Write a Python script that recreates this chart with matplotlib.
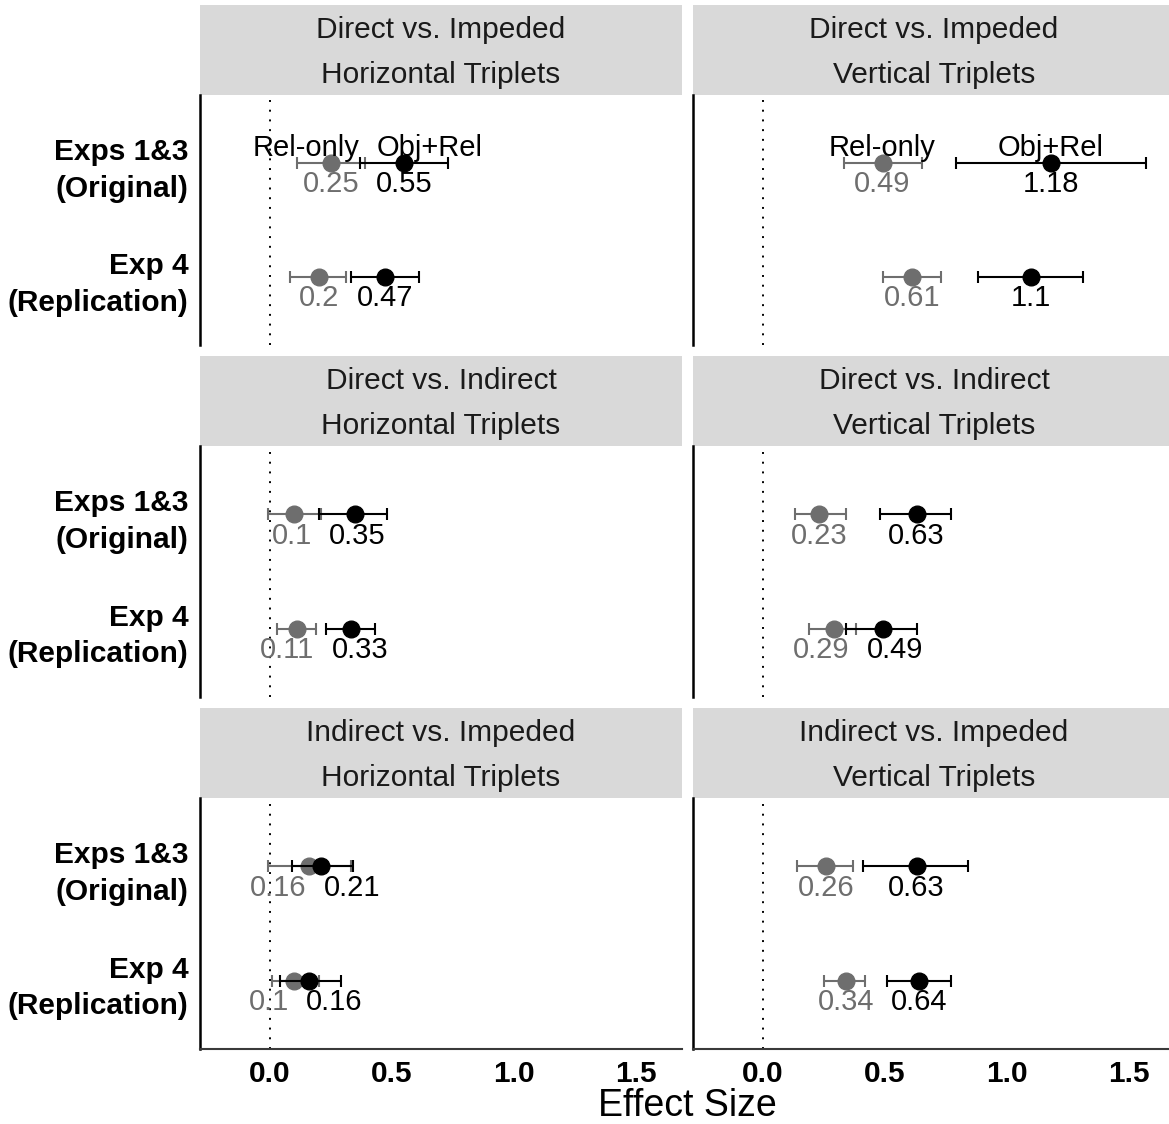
import matplotlib
matplotlib.use("Agg")
import numpy as np
import matplotlib.pyplot as plt
from matplotlib.transforms import ScaledTranslation

plt.rcParams['font.family'] = ['Liberation Sans', 'DejaVu Sans']

# facet labels
comparisons = ["Direct vs. Impeded", "Direct vs. Indirect", "Indirect vs. Impeded"]
orientations = ["Horizontal Triplets", "Vertical Triplets"]
experiments = ["Exps 1&3\n(Original)", "Exp 4\n(Replication)"]
series_names = ["Rel-only", "Obj+Rel"]

# effect sizes [comparison][orientation][experiment]
rel_est = [[[0.25, 0.20], [0.49, 0.61]],
           [[0.10, 0.11], [0.23, 0.29]],
           [[0.16, 0.10], [0.26, 0.34]]]
rel_lo = [[[0.11, 0.08], [0.33, 0.49]],
          [[-0.01, 0.03], [0.13, 0.19]],
          [[-0.01, 0.01], [0.14, 0.25]]]
rel_hi = [[[0.39, 0.31], [0.65, 0.73]],
          [[0.21, 0.19], [0.34, 0.38]],
          [[0.33, 0.20], [0.37, 0.42]]]
obj_est = [[[0.55, 0.47], [1.18, 1.10]],
           [[0.35, 0.33], [0.63, 0.49]],
           [[0.21, 0.16], [0.63, 0.64]]]
obj_lo = [[[0.37, 0.33], [0.79, 0.88]],
          [[0.20, 0.23], [0.48, 0.34]],
          [[0.09, 0.04], [0.41, 0.51]]]
obj_hi = [[[0.73, 0.61], [1.57, 1.31]],
          [[0.48, 0.43], [0.77, 0.63]],
          [[0.34, 0.29], [0.84, 0.77]]]

x_ticks = [0.0, 0.5, 1.0, 1.5]
x_ticklabels = ["0.0", "0.5", "1.0", "1.5"]

W, H = 1169, 1124
DPI = 100
fig = plt.figure(figsize=(W / DPI, H / DPI), dpi=DPI)


def px_rect(x0, y0, x1, y1):
    return [x0 / W, 1 - y1 / H, (x1 - x0) / W, (y1 - y0) / H]


col_x = [(200, 682), (693, 1175)]
row_y = [(95, 345), (446, 697), (798, 1049)]
strip_h = 90
GRAY = '#6e6e6e'
FS = 21
LABEL_GAP_PX = 17


def fmt(v):
    return f"{round(v, 2):g}"


label_pairs = []  # (ax, text_a, text_b, x_a, x_b, y, dy)
lift = ScaledTranslation(0, 3 / DPI, fig.dpi_scale_trans)

for i, comp in enumerate(comparisons):
    for j, orient in enumerate(orientations):
        x0, x1 = col_x[j]
        y0, y1 = row_y[i]

        # strip header
        sax = fig.add_axes(px_rect(x0, y0 - strip_h, x1, y0))
        sax.set_facecolor('#d9d9d9')
        sax.set_xticks([])
        sax.set_yticks([])
        for s in sax.spines.values():
            s.set_visible(False)
        sax.text(0.5, 0.72, comp, ha='center', va='center', fontsize=21.5,
                 color='#1a1a1a', transform=sax.transAxes)
        sax.text(0.5, 0.22, orient, ha='center', va='center', fontsize=21.5,
                 color='#1a1a1a', transform=sax.transAxes)

        ax = fig.add_axes(px_rect(x0, y0, x1, y1))
        ax.set_xlim(-0.287, 1.689)
        ax.set_ylim(2.6, 0.4)
        ax.axvline(0, color='black', ls=(0, (1, 4)), lw=1.4, zorder=1)

        y = np.array([1, 2])
        re = np.array(rel_est[i][j])
        oe = np.array(obj_est[i][j])
        ax.errorbar(re, y, xerr=[re - np.array(rel_lo[i][j]), np.array(rel_hi[i][j]) - re],
                    fmt='o', color=GRAY, ms=12, capsize=4, elinewidth=1.5,
                    capthick=1.5, zorder=2)
        ax.errorbar(oe, y, xerr=[oe - np.array(obj_lo[i][j]), np.array(obj_hi[i][j]) - oe],
                    fmt='o', color='black', ms=12, capsize=4, elinewidth=1.5,
                    capthick=1.5, zorder=3)

        for k in range(2):
            tr = ax.annotate(fmt(re[k]), (re[k], y[k]), xytext=(0, -21),
                             textcoords='offset points', ha='center', va='baseline',
                             color=GRAY, fontsize=FS)
            to = ax.annotate(fmt(oe[k]), (oe[k], y[k]), xytext=(0, -21),
                             textcoords='offset points', ha='center', va='baseline',
                             color='black', fontsize=FS)
            label_pairs.append((ax, tr, to, re[k], oe[k], y[k], -21))

        if i == 0:
            ta = ax.annotate(series_names[0], (re[0], y[0]), xytext=(0, 5.5),
                             textcoords='offset points', ha='center', va='baseline',
                             color='black', fontsize=FS)
            tb = ax.annotate(series_names[1], (oe[0], y[0]), xytext=(0, 5.5),
                             textcoords='offset points', ha='center', va='baseline',
                             color='black', fontsize=FS)
            label_pairs.append((ax, ta, tb, re[0], oe[0], y[0], 5.5))

        # axes styling
        for side in ('top', 'right'):
            ax.spines[side].set_visible(False)
        ax.spines['left'].set_color('black')
        ax.spines['left'].set_linewidth(1.8)
        ax.set_yticks(y)
        if j == 0:
            ax.set_yticklabels(experiments, fontsize=21.5, fontweight='bold',
                               linespacing=1.4)
            for lab in ax.get_yticklabels():
                lab.set_transform(lab.get_transform() + lift)
        else:
            ax.set_yticklabels([])
        ax.tick_params(axis='y', length=0, pad=8.5)
        ax.set_xticks(x_ticks)
        if i == len(comparisons) - 1:
            ax.set_xticklabels(x_ticklabels, fontsize=21.5, fontweight='bold')
            ax.spines['bottom'].set_color('#3a3a3a')
            ax.spines['bottom'].set_linewidth(1.5)
        else:
            ax.set_xticklabels([])
            ax.spines['bottom'].set_visible(False)
        ax.tick_params(axis='x', length=0, pad=8)

fig.text(687 / W, 1 - 1106 / H, "Effect Size", ha='center', va='center', fontsize=27)

# push overlapping value labels apart
fig.canvas.draw()
renderer = fig.canvas.get_renderer()
for ax, ta, tb, xa, xb, yy, dy in label_pairs:
    wa = ta.get_window_extent(renderer).width
    wb = tb.get_window_extent(renderer).width
    pa = ax.transData.transform((xa, yy))[0]
    pb = ax.transData.transform((xb, yy))[0]
    need = (wa + wb) / 2 + LABEL_GAP_PX
    gap = pb - pa
    if gap < need:
        shift = (need - gap) / 2 * 72 / DPI
        ta.xyann = (-shift, dy)
        tb.xyann = (shift, dy)

fig.savefig("out.png", dpi=DPI)
